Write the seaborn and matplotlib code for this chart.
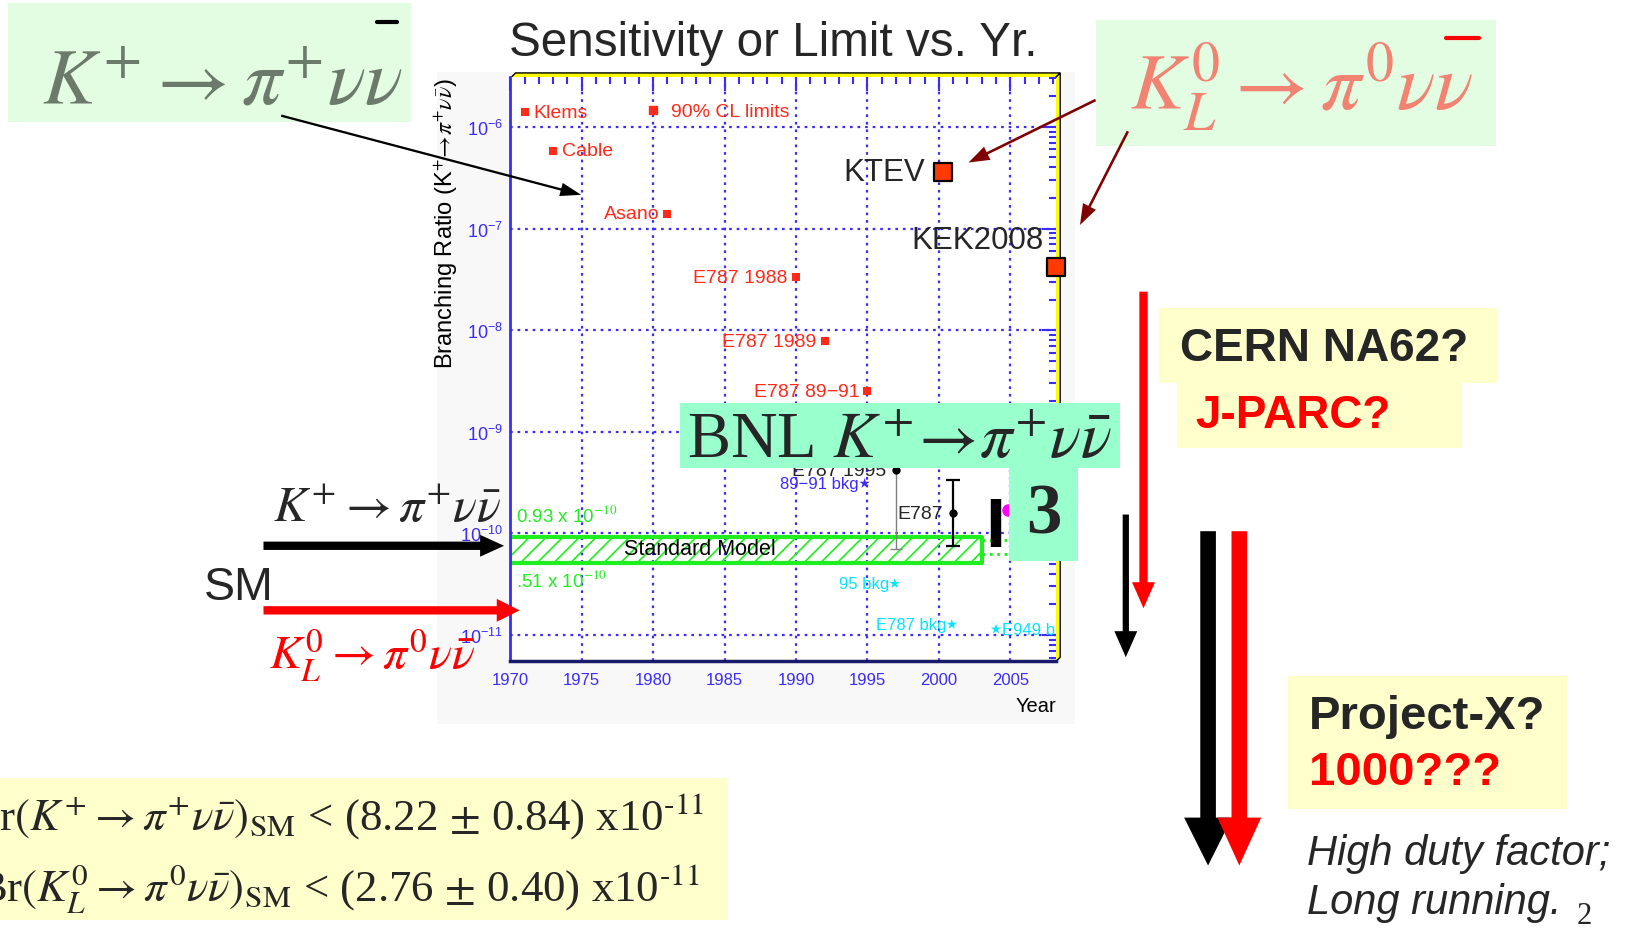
# K -> pi nu nubar: sensitivity / limit vs year, slide recreation

import numpy as np
import pandas as pd
import matplotlib
matplotlib.use('Agg')
import matplotlib.pyplot as plt
import seaborn as sns
from matplotlib.patches import Rectangle, Polygon
from matplotlib.lines import Line2D
from matplotlib.transforms import Affine2D, offset_copy
from matplotlib.ticker import LogLocator, LogFormatterMathtext, MultipleLocator, NullFormatter

sns.set_style('white')
plt.rcParams['font.family'] = ['Liberation Sans', 'DejaVu Sans']
plt.rcParams['mathtext.fontset'] = 'stix'
plt.rcParams['hatch.linewidth'] = 1.2

# 90% CL upper limits, K+ -> pi+ nu nubar
limit_labels = ['Klems', 'Cable', 'Asano', 'E787 1988', 'E787 1989', 'E787 89\u221291']
limit_years = [1971.0, 1973.0, 1981.0, 1990.0, 1992.0, 1995.0]
limit_values = [1.4e-6, 5.8e-7, 1.4e-7, 3.3e-8, 7.8e-9, 2.5e-9]

# K_L -> pi0 nu nubar limits
kl_labels = ['KTEV', 'KEK2008']
kl_years = [2000.3, 2008.2]
kl_values = [3.6e-7, 4.2e-8]

# measured branching ratios
event_labels = ['E787 1995', 'E787']
event_years = [1997.0, 2001.0]
event_values = [4.2e-10, 1.57e-10]
event_err_up = [9.7e-10, 1.75e-10]
event_err_down = [3.5e-10, 0.82e-10]

e949_year = 2004.0
e949_range = [0.74e-10, 2.2e-10]
e949_mag_year = 2004.85
e949_mag_value = 1.7e-10

# background levels
bkg_labels = ['89\u221291 bkg', '95 bkg', 'E787 bkg', 'E949 bk']
bkg_years = [1994.8, 1996.9, 2000.9, 2004.0]
bkg_values = [3.1e-10, 3.2e-11, 1.27e-11, 1.14e-11]

# standard model band
sm_years = [1970, 2003]
sm_range = [0.51e-10, 0.93e-10]
sm_future_range = [0.62e-10, 0.86e-10]

x_max = 2008.2

BLUE = '#3a2bff'
RED = '#ff2a1a'
CYAN = '#00e6ff'
GREEN = '#1fee1f'
SERIF = 'Liberation Serif'
HY = '\u2010'  # small hyphen for the exponents

fig = plt.figure(figsize=(16.33, 9.29), dpi=100)
# slide pixel coords (1568 x 892, origin top left)
S = Affine2D().scale(1 / 1568, -1 / 892).translate(0, 1) + fig.transFigure


def box(x, y, w, h, color, z=4):
    fig.add_artist(Rectangle((x, y), w, h, transform=S, facecolor=color,
                             edgecolor='none', zorder=z))


def label(x, y, s, **kw):
    kw.setdefault('zorder', 7)
    fig.text(x, y, s, transform=S, **kw)


def arrow(p0, p1, shaft, head_w, head_l, color, z=6):
    p0, p1 = np.array(p0, float), np.array(p1, float)
    d = p1 - p0
    u = d / np.hypot(*d)
    n = np.array([-u[1], u[0]])
    b = p1 - u * head_l
    pts = [p0 + n * shaft / 2, b + n * shaft / 2, b + n * head_w / 2, p1,
           b - n * head_w / 2, b - n * shaft / 2, p0 - n * shaft / 2]
    fig.add_artist(Polygon(pts, closed=True, transform=S, facecolor=color,
                           edgecolor='none', zorder=z))


# faint panel behind the ROOT plot
box(420, 70, 612, 626, '#f8f8f8', z=-5)

# yellow 3d frame on top and right (under the axes content)
frame_top = [(490, 76), (495, 71), (1018, 71), (1013, 76)]
frame_right = [(1013, 76), (1018, 71), (1018, 632), (1013, 637)]
for pts in (frame_top, frame_right):
    fig.add_artist(Polygon(pts, closed=True, transform=S, facecolor='#ffff00',
                           edgecolor='black', lw=1, zorder=-1))

ax = fig.add_axes([490 / 1568, 1 - 636 / 892, 524 / 1568, 561 / 892])
ax.set_facecolor('white')
ax.set_yscale('log')
ax.set_xlim(1970, x_max)
ax.set_ylim(10 ** -11.26, 10 ** -5.51)

ax.xaxis.set_major_locator(MultipleLocator(5))
ax.xaxis.set_minor_locator(MultipleLocator(1))
ax.yaxis.set_major_locator(LogLocator(base=10, numticks=20))
ax.yaxis.set_minor_locator(LogLocator(base=10, subs=np.arange(2, 10), numticks=60))
ax.yaxis.set_major_formatter(LogFormatterMathtext())
ax.yaxis.set_minor_formatter(NullFormatter())
ax.tick_params(which='both', direction='in', top=True, right=True, color=BLUE,
               labelcolor=BLUE, width=1.5, labelsize=12)
ax.tick_params(which='major', length=10)
ax.tick_params(which='minor', length=5)
ax.tick_params(axis='x', pad=8)
ax.tick_params(axis='y', pad=5, labelsize=13)
ax.grid(True, which='major', color=BLUE, linestyle=(0, (1.2, 2.2)), linewidth=1.6)
ax.set_axisbelow(True)
ax.spines['left'].set_color(BLUE)
ax.spines['left'].set_linewidth(2)
ax.spines['bottom'].set_color('#1a1a6a')
ax.spines['bottom'].set_linewidth(2.5)
ax.spines['top'].set_visible(False)
ax.spines['right'].set_visible(False)

# standard model band
ax.fill_between(sm_years, sm_range[0], sm_range[1], facecolor='none',
                edgecolor=GREEN, hatch='//', linewidth=3, zorder=2)
for v in sm_future_range:
    ax.plot([sm_years[1], x_max], [v, v], ':', color=GREEN, lw=2, zorder=2)
ax.annotate(r'0.93 x 10$^{-10}$', (sm_years[0], sm_range[1]), xytext=(4, 8),
            textcoords='offset points', ha='left', va='bottom', color=GREEN, fontsize=13.5)
ax.annotate(r'.51 x 10$^{-10}$', (sm_years[0], sm_range[0]), xytext=(4, -4),
            textcoords='offset points', ha='left', va='top', color=GREEN, fontsize=13.5)
ax.text(1983.3, 7.1e-11, 'Standard Model', ha='center', va='center', fontsize=15.5,
        color='black', zorder=3)

# limits
limits = pd.DataFrame({'year': limit_years, 'br': limit_values, 'label': limit_labels})
sns.scatterplot(data=limits, x='year', y='br', marker='s', s=32, color=RED,
                linewidth=0, ax=ax, zorder=4)
for _, r in limits.iterrows():
    left = r['year'] > 1975
    ax.annotate(r['label'], (r['year'], r['br']), xytext=(-6 if left else 6, 0),
                textcoords='offset points', ha='right' if left else 'left',
                va='center', color=RED, fontsize=14)
ax.legend(handles=[Line2D([], [], marker='s', ls='', color=RED, ms=6)],
          labels=['90% CL limits'], loc='center left', bbox_to_anchor=(0.251, 0.941),
          frameon=False, labelcolor=RED, fontsize=14, handlelength=0.6,
          handletextpad=0.6, borderpad=0, borderaxespad=0)

# K_L limits
kl = pd.DataFrame({'year': kl_years, 'br': kl_values, 'label': kl_labels})
sns.scatterplot(data=kl, x='year', y='br', marker='s', s=150, color='#ff3a00',
                edgecolor='black', linewidth=1.6, ax=ax, zorder=6, clip_on=False)
ax.annotate(kl_labels[0], (kl_years[0], kl_values[0]), xytext=(-13, 0),
            textcoords='offset points', ha='right', va='center', fontsize=22.5)
ax.annotate(kl_labels[1], (kl_years[1], kl_values[1]), xytext=(-9, 19),
            textcoords='offset points', ha='right', va='center', fontsize=22.5)

# measured points
ecolors = ['#808080', 'black']
for i in range(len(event_years)):
    ax.errorbar(event_years[i], event_values[i],
                yerr=[[event_err_down[i]], [event_err_up[i]]], fmt='o', ms=5,
                color='black', ecolor=ecolors[i], elinewidth=1 + 0.6 * i,
                capsize=4 + i, capthick=1 + 0.6 * i, zorder=5)
    ax.annotate(event_labels[i], (event_years[i], event_values[i]), xytext=(-7, 0),
                textcoords='offset points', ha='right', va='center', fontsize=14)
ax.vlines(e949_year, e949_range[0], e949_range[1], color='black', lw=7.5, zorder=5)
ax.plot(e949_mag_year, e949_mag_value, 'o', ms=8, color='magenta', zorder=5)

# backgrounds
bkg = pd.DataFrame({'year': bkg_years, 'br': bkg_values, 'label': bkg_labels})
sns.scatterplot(data=bkg, x='year', y='br', hue='label', palette=[BLUE, CYAN, CYAN, CYAN],
                marker='*', s=60, linewidth=0, legend=False, ax=ax, zorder=4)
for i in range(len(bkg_years)):
    left = i < len(bkg_years) - 1
    tr = offset_copy(ax.transData, fig=fig, x=-4 if left else 4, y=0, units='points')
    ax.text(bkg_years[i], bkg_values[i], bkg_labels[i], transform=tr,
            ha='right' if left else 'left', va='center', fontsize=12,
            color=BLUE if i == 0 else CYAN, clip_on=True)

ax.set_ylabel(r'Branching Ratio (K$^{+}\!\rightarrow\!\pi^{+}\nu\bar{\nu}$)', loc='top',
              fontsize=17, color='black', labelpad=0)
ax.set_xlabel('Year', loc='right', fontsize=14.5, color='black', labelpad=6)

label(742, 42, 'Sensitivity or Limit vs. Yr.', ha='center', va='center', fontsize=34.3)

# top left formula box
box(8, 4, 387, 114, '#e2fde2')
label(40, 100, r'$K^{+}\rightarrow\pi^{+}\nu\nu$', ha='left', va='baseline',
      fontsize=57, color='#6c7a6c')
fig.add_artist(Line2D([362, 381], [22, 22], transform=S, color='black', lw=3, zorder=7))
arrow((270, 112), (558, 188), 2.2, 13, 20, 'black')

# top right formula box
box(1052, 20, 384, 121, '#e2fde2')
label(1085, 105, r'$K_{L}^{0}\rightarrow\pi^{0}\nu\nu$', ha='left', va='baseline',
      fontsize=57.5, color='#f28272')
fig.add_artist(Line2D([1388, 1420], [37, 37], transform=S, color='red', lw=3, zorder=7))
arrow((1052, 97), (930, 157), 2.5, 14, 20, '#800000')
arrow((1083, 127), (1037, 217), 2.5, 14, 20, '#800000')

# BNL box
box(653, 388, 422, 62, '#99ffcc', z=5)
box(969, 450, 66, 90, '#99ffcc', z=5)
label(660, 440, r'BNL $K^{+}\!\rightarrow\!\pi^{+}\nu\bar{\nu}$', ha='left', va='baseline',
      fontsize=46.5, family=SERIF)
label(1002, 495, '3', ha='center', va='center', fontsize=51, fontweight='bold', family=SERIF)

# left: SM arrows
label(262, 501, r'$K^{+}\rightarrow\pi^{+}\nu\bar{\nu}$', ha='left', va='baseline', fontsize=36)
arrow((253, 525), (484, 525), 8, 21, 23, 'black')
label(196, 565, 'SM', ha='left', va='center', fontsize=33.5)
arrow((253, 587), (499, 587), 8, 22, 22, 'red')
label(258, 643, r'$K_{L}^{0}\rightarrow\pi^{0}\nu\bar{\nu}$', ha='left', va='baseline',
      fontsize=34.5, color='red')

# SM predictions box
box(0, 748, 698, 136, '#ffffcc')
label(676, 797, r'Br$(K^{+}\rightarrow\pi^{+}\nu\bar{\nu})_{\mathrm{SM}}$ < (8.22 $\pm$ 0.84) x10$^{' + HY + '11}$',
      ha='right', va='baseline', fontsize=32.3, family=SERIF)
label(672, 866, r'Br$(K_{L}^{0}\rightarrow\pi^{0}\nu\bar{\nu})_{\mathrm{SM}}$ < (2.76 $\pm$ 0.40) x10$^{' + HY + '11}$',
      ha='right', va='baseline', fontsize=32.3, family=SERIF)

# right: future experiments
arrow((1098, 281), (1098, 585), 8, 22, 25, 'red')
arrow((1081, 495), (1081, 632), 6, 22, 25, 'black')
box(1113, 297, 325, 72, '#ffffcc')
box(1130, 369, 274, 62, '#ffffcc')
label(1133, 335, 'CERN NA62?', ha='left', va='center', fontsize=33, fontweight='bold')
label(1148, 399, 'J-PARC?', ha='left', va='center', fontsize=33, fontweight='bold', color='red')

arrow((1160, 511), (1160, 832), 15, 46, 46, 'black')
arrow((1190, 511), (1190, 832), 15, 42, 46, 'red', z=6.5)
box(1237, 650, 268, 128, '#ffffcc')
label(1257, 688, 'Project-X?', ha='left', va='center', fontsize=34, fontweight='bold')
label(1257, 742, '1000???', ha='left', va='center', fontsize=34, fontweight='bold', color='red')
label(1255, 820, 'High duty factor;', ha='left', va='center', fontsize=30, style='italic')
label(1255, 867, 'Long running.', ha='left', va='center', fontsize=30, style='italic')
label(1514, 880, '2', ha='left', va='center', fontsize=22, family=SERIF)

fig.savefig('out.png', dpi=100)
